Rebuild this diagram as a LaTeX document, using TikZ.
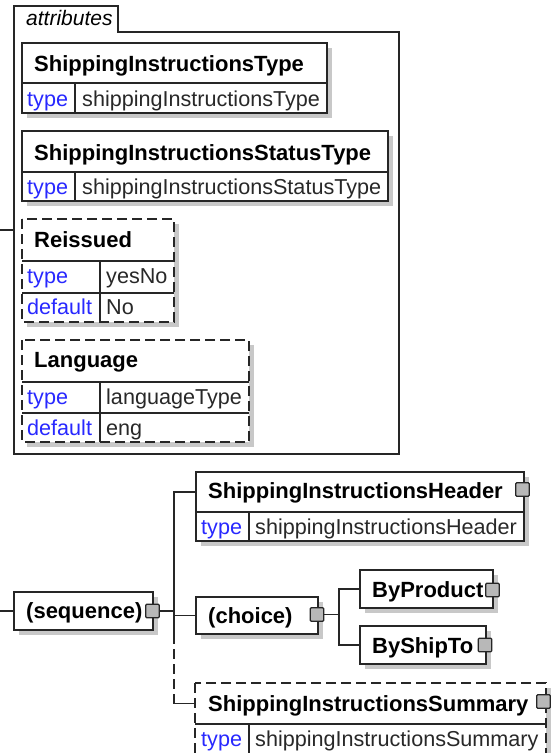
\documentclass[tikz,border=0pt]{standalone}
\usepackage{fontspec}
\setmainfont{Liberation Sans}
\definecolor{keyblue}{RGB}{40,40,255}
\definecolor{valc}{RGB}{40,40,40}
\definecolor{shdc}{RGB}{200,200,200}
\newcommand\bx[6][]{\node[rectangle, inner sep=0pt, outer sep=0pt, anchor=north west, minimum width={(#5)-(#3)}, minimum height={(#6)-(#4)}, #1] (#2) at (#3,#4) {};}
\tikzset{
  ln/.style={line width=1.5pt, draw=black!85},
  cell/.style={draw=black!85, line width=1.5pt, fill=white},
  blank/.style={fill=white},
  dsh/.style={dash pattern=on 10pt off 5pt},
  shd/.style={fill=shdc},
  ttl/.style={font=\fontsize{22}{25}\selectfont\bfseries, anchor=base west, inner sep=0pt},
  key/.style={font=\fontsize{21.6}{25}\selectfont, text=keyblue, anchor=base west, inner sep=0pt},
  val/.style={font=\fontsize{21.6}{25}\selectfont, text=valc, anchor=base west, inner sep=0pt},
  grp/.style={font=\fontsize{21}{24}\selectfont\itshape, anchor=base west, inner sep=0pt},
  sq/.style={draw=black!85, line width=1.3pt, fill=black!28, minimum size=13.5pt, inner sep=0pt, rounded corners=1pt},
}
\begin{document}
\begin{tikzpicture}[x=1pt,y=-1pt]
\useasboundingbox (0,0) rectangle (550,753);
\fill[white] (0,0) rectangle (550,753);

% ---------------- attributes group ----------------
\bx{attr}{14}{32}{399}{454}
\draw[ln] (attr.south west) -- (14,6) -- (118,6) -- (118,32) -- (attr.north east) -- (attr.south east) -- cycle;
\node[grp] (attrLbl) at (26,25) {attributes};
\coordinate (attrIn) at (0,230);
\draw[ln] (attrIn) -- (attrIn -| attr.west);

% ShippingInstructionsType
\fill[shd] (27,48) rectangle (332,118);
\bx[cell]{e1h}{22}{43}{327}{83}
\bx[cell]{e1k}{22}{83}{75}{113}
\bx[cell]{e1v}{75}{83}{327}{113}
\node[ttl] (e1t) at (34,71) {ShippingInstructionsType};
\node[key] (e1kt) at (27,106) {type};
\node[val] (e1vt) at (82,106) {shippingInstructionsType};

% ShippingInstructionsStatusType
\fill[shd] (27,136) rectangle (393,206);
\bx[cell]{e2h}{22}{131}{388}{172}
\bx[cell]{e2k}{22}{172}{75}{201}
\bx[cell]{e2v}{75}{172}{388}{201}
\node[ttl] (e2t) at (34,160) {ShippingInstructionsStatusType};
\node[key] (e2kt) at (27,194) {type};
\node[val] (e2vt) at (82,194) {shippingInstructionsStatusType};

% Reissued (optional)
\fill[shd] (27,224) rectangle (179,327);
\bx[blank]{e3h}{22}{219}{174}{261}
\bx[blank]{e3k1}{22}{261}{100}{293}
\bx[blank]{e3v1}{100}{261}{174}{293}
\bx[blank]{e3k2}{22}{293}{100}{322}
\bx[blank]{e3v2}{100}{293}{174}{322}
\draw[ln,dsh] (e3h.north west) rectangle (e3v2.south east);
\draw[ln] (e3h.south west) -- (e3h.south east);
\draw[ln] (e3k1.south west) -- (e3v1.south east);
\draw[ln] (e3k1.north east) -- (e3k2.south east);
\node[ttl] (e3t) at (34,247) {Reissued};
\node[key] (e3kt1) at (27,283) {type};
\node[val] (e3vt1) at (106,283) {yesNo};
\node[key] (e3kt2) at (27,314) {default};
\node[val] (e3vt2) at (106,314) {No};

% Language (optional)
\fill[shd] (27,345) rectangle (254,447);
\bx[blank]{e4h}{22}{340}{249}{382}
\bx[blank]{e4k1}{22}{382}{100}{413}
\bx[blank]{e4v1}{100}{382}{249}{413}
\bx[blank]{e4k2}{22}{413}{100}{442}
\bx[blank]{e4v2}{100}{413}{249}{442}
\draw[ln,dsh] (e4h.north west) rectangle (e4v2.south east);
\draw[ln] (e4h.south west) -- (e4h.south east);
\draw[ln] (e4k1.south west) -- (e4v1.south east);
\draw[ln] (e4k1.north east) -- (e4k2.south east);
\node[ttl] (e4t) at (34,367) {Language};
\node[key] (e4kt1) at (27,404) {type};
\node[val] (e4vt1) at (106,404) {languageType};
\node[key] (e4kt2) at (27,435) {default};
\node[val] (e4vt2) at (106,435) {eng};

% ---------------- content model ----------------
% sequence
\fill[shd] (19,597) rectangle (158,635);
\bx[cell]{seq}{14}{592}{153}{630}
\node[ttl] (seqT) at (26,618) {(sequence)};
\coordinate (seqIn) at (0,611);
\draw[ln] (seqIn) -- (seqIn -| seq.west);

% header element
\fill[shd] (201,477) rectangle (529,546);
\bx[cell]{e5h}{196}{472}{524}{512}
\bx[cell]{e5k}{196}{512}{249}{541}
\bx[cell]{e5v}{249}{512}{524}{541}
\node[ttl] (e5t) at (208,498) {ShippingInstructionsHeader};
\node[key] (e5kt) at (201,534) {type};
\node[val] (e5vt) at (255,534) {shippingInstructionsHeader};

% choice
\fill[shd] (201,602) rectangle (323,639);
\bx[cell]{ch}{196}{597}{318}{634}
\node[ttl] (chT) at (208,623) {(choice)};

% ByProduct
\fill[shd] (365,575) rectangle (498,613);
\bx[cell]{bp}{360}{570}{493}{608}
\node[ttl] (bpT) at (372,597) {ByProduct};

% ByShipTo
\fill[shd] (365,631) rectangle (491,669);
\bx[cell]{bs}{360}{626}{486}{664}
\node[ttl] (bsT) at (372,653) {ByShipTo};

% summary element (optional)
\fill[shd] (200,688) rectangle (551,775);
\bx[blank]{e7h}{195}{683}{546}{724}
\bx[blank]{e7k}{195}{724}{249}{770}
\bx[blank]{e7v}{249}{724}{546}{770}
\draw[ln,dsh] (e7h.north west) rectangle (e7v.south east);
\draw[ln] (e7h.south west) -- (e7h.south east);
\draw[ln] (e7k.north east) -- (e7k.south east);
\node[ttl] (e7t) at (208,711) {ShippingInstructionsSummary};
\node[key] (e7kt) at (201,746) {type};
\node[val] (e7vt) at (255,746) {shippingInstructionsSummary};

% connector squares
\node[sq] (seqSq) at (152.5,611) {};
\node[sq] (e5Sq) at (522.5,489.5) {};
\node[sq] (chSq) at (317,614.5) {};
\node[sq] (bpSq) at (492.5,590) {};
\node[sq] (bsSq) at (485,645) {};
\node[sq] (e7Sq) at (543.5,701.5) {};

% sequence connectors
\coordinate (t1) at (174,492);
\coordinate (t2) at (174,634);
\coordinate (t3) at (174,703.5);
\draw[ln] (e5h.west) -- (t1) -- (t2);
\draw[ln,dsh] (t2) -- (t3);
\draw[ln] (t3) -- (e7h.west);
\draw[ln] (seqSq.east) -- (seqSq.east -| t1);
\draw[ln] (ch.west) -- (ch.west -| t1);

% choice connectors
\coordinate (cTop) at (339,589);
\coordinate (cBot) at (339,645);
\draw[ln] (bp.west) -- (cTop) -- (cBot) -- (bs.west);
\draw[ln] (chSq.east) -- (chSq.east -| cTop);
\end{tikzpicture}
\end{document}
